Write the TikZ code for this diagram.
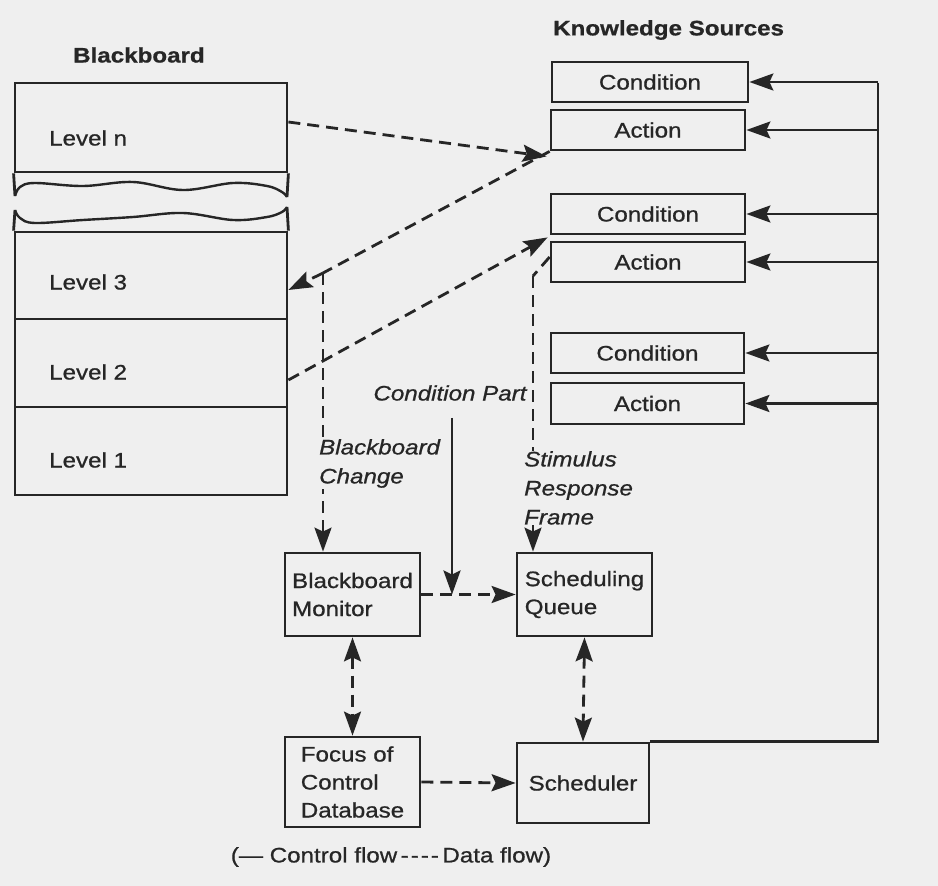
\documentclass[tikz,border=0pt]{standalone}
\usepackage{fontspec}
\setmainfont{Liberation Sans}[FakeStretch=1.15, FakeBold=0.8]
\usetikzlibrary{arrows.meta}
\definecolor{paper}{HTML}{EFEFEF}
\definecolor{ink}{HTML}{262626}
\begin{document}
\begin{tikzpicture}[x=1pt,y=-1pt,
  every node/.style={text=ink},
  lab/.style={font=\fontsize{21}{28}\selectfont, inner sep=1pt},
  ital/.style={font=\fontsize{21}{29}\selectfont\itshape, inner sep=1pt, align=left},
  ttl/.style={font=\fontsize{21}{28}\selectfont\bfseries, inner sep=0pt},
  box/.style={draw=ink, line width=2.8pt, inner sep=2pt, font=\fontsize{21}{28}\selectfont},
  wall/.style={draw=ink, line width=2.8pt},
  ctrl/.style={draw=ink, line width=2.8pt, -{Stealth[length=24pt,width=17pt,inset=4pt]}},
  ctrlline/.style={draw=ink, line width=2.8pt},
  data/.style={draw=ink, line width=2.8pt, dash pattern=on 12pt off 7pt},
  dataarr/.style={data, -{Stealth[length=24pt,width=17pt,inset=4pt]}},
  both/.style={data, {Stealth[length=24pt,width=17pt,inset=4pt]}-{Stealth[length=24pt,width=17pt,inset=4pt]}},
]
% page
\fill[paper] (0,0) rectangle (938,886);
\useasboundingbox (0,0) rectangle (938,886);

% ---------- Blackboard ----------
\node[ttl, anchor=west] (bbtitle) at (73,55) {Blackboard};
\node[box, minimum width=272pt, minimum height=89pt] (lvn) at (151,127.5) {};
\node[box, minimum width=272pt, minimum height=87pt] (lv3) at (151,275.5) {};
\node[box, minimum width=272pt, minimum height=88pt] (lv2) at (151,363) {};
\node[box, minimum width=272pt, minimum height=88pt] (lv1) at (151,451) {};
\node[lab, anchor=west] (tn) at (48,138) {Level n};
\node[lab, anchor=west] (t3) at (48,282) {Level 3};
\node[lab, anchor=west] (t2) at (48,372) {Level 2};
\node[lab, anchor=west] (t1) at (48,460) {Level 1};
% broken section between Level n and Level 3
\draw[wall] (lvn.south west) -- (15,196);
\draw[wall] (lvn.south east) -- (287,197);
\draw[wall] (15,210) -- (lv3.north west);
\draw[wall] (287,207) -- (lv3.north east);
\draw[wall, line width=2.4pt] plot[smooth, tension=0.6] coordinates
  {(15,196) (20,187) (35,183) (83,186) (133,182) (183,190) (233,183) (267,186) (282,192) (287,197)};
\draw[wall, line width=2.4pt] plot[smooth, tension=0.6] coordinates
  {(15,210) (20,218) (35,223) (83,220) (133,217) (183,213) (233,220) (267,217) (282,212) (287,207)};

% ---------- Knowledge sources ----------
\node[ttl, anchor=west] (kstitle) at (553,30) {Knowledge Sources};
\node[box, minimum width=196pt, minimum height=40pt] (c1) at (650,82) {Condition};
\node[box, minimum width=194pt, minimum height=40pt] (a1) at (648,130) {Action};
\node[box, minimum width=194pt, minimum height=40pt] (c2) at (648,214) {Condition};
\node[box, minimum width=194pt, minimum height=40pt] (a2) at (648,262) {Action};
\node[box, minimum width=193pt, minimum height=40pt] (c3) at (647.5,353) {Condition};
\node[box, minimum width=193pt, minimum height=41pt] (a3) at (647.5,403.5) {Action};

% ---------- Control boxes ----------
\node[box, minimum width=135pt, minimum height=83pt, align=left] (bm) at (352.5,594.5) {Blackboard\\Monitor};
\node[box, minimum width=135pt, minimum height=83pt, align=left] (sq) at (584.5,594.5) {Scheduling\\Queue};
\node[box, minimum width=135pt, minimum height=90pt, align=left] (foc) at (352.5,782) {Focus of\\Control\\Database};
\node[box, minimum width=132pt, minimum height=80pt] (sch) at (583,783) {Scheduler};

% ---------- Control flow: scheduler to knowledge sources ----------
\coordinate (bus) at (878,83);
\draw[ctrlline] (sch.north east) -- (sch.north east -| bus) -- (bus);
\foreach \k in {c1,a1,c2,a2,c3,a3}{
  \draw[ctrl] (\k.east -| bus) -- (\k.east);
}

% ---------- Data flow between blackboard and knowledge sources ----------
\coordinate (bbc) at (323,273);
\coordinate (srf) at (533,276);
\draw[dataarr] ([yshift=5.5pt]lvn.east) -- ([xshift=-3pt,yshift=-5pt]a1.south west);
\draw[data] (a1.south west) -- (bbc);
\draw[dataarr] (bbc) -- ([yshift=-14.5pt]lv3.east);
\draw[dataarr] (bbc) -- (bbc |- bm.north);
\draw[dataarr] ([yshift=-17pt]lv2.east) -- ([xshift=-2pt,yshift=-2pt]c2.south west);
\draw[data] ([yshift=5pt]a2.west) -- (srf);
\draw[dataarr] (srf) -- (srf |- sq.north);

% ---------- Monitor, queue, focus, scheduler ----------
\node[ital, anchor=center] (cp) at (450,393) {Condition Part};
\draw[ctrl] ([yshift=-16pt]cp.south -| 452,0) -- (452,594.5);
\draw[dataarr] (bm.east) -- (sq.west);
\draw[both] (bm.south) -- (foc.north);
\draw[both] (sq.south) -- (sch.north);
\draw[dataarr] (foc.east) -- (sch.west);

% labels laid over the data lines
\node[ital, anchor=north west, fill=paper] (bbch) at (318,438) {Blackboard\\Change};
\node[ital, anchor=north west, fill=paper, inner ysep=0pt] (srft) at (523,451) {Stimulus\\Response\\Frame};

% legend
\node[lab] (legend) at (391,857) {(— Control flow\,-\kern2pt-\kern2pt-\kern2pt-\,Data flow)};
\end{tikzpicture}
\end{document}
